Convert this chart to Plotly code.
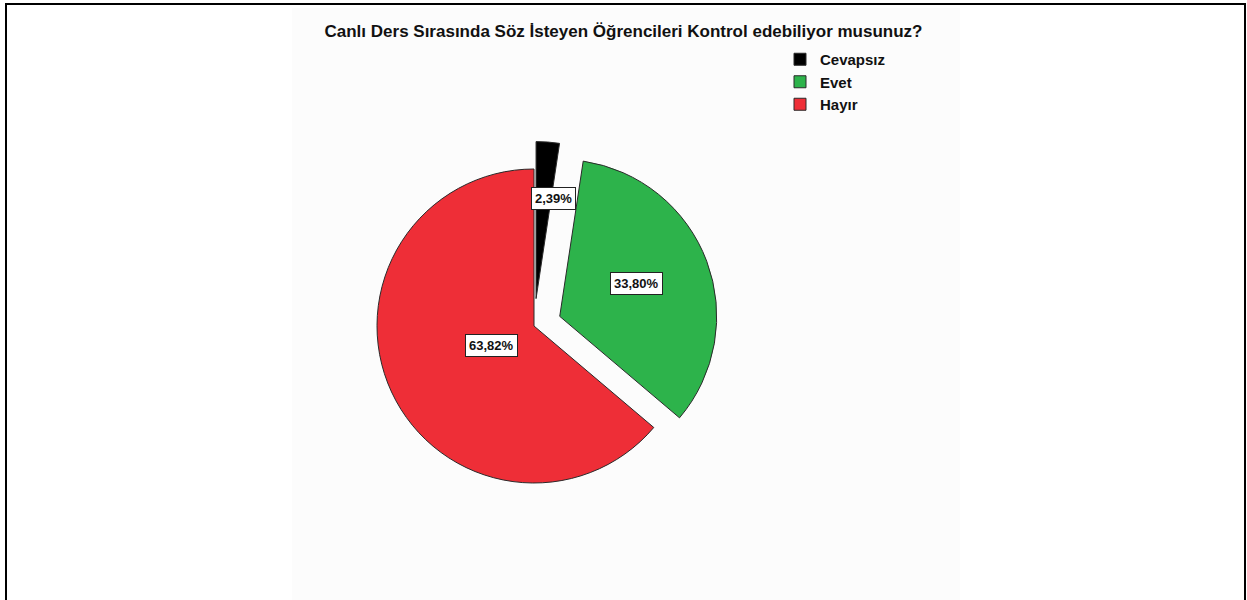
import math
import plotly.graph_objects as go

# ---- data ----
categories = ["Cevapsız", "Evet", "Hayır"]
percentages = [2.39, 33.80, 63.82]
slice_colors = ["#000000", "#2db34b", "#ee2e37"]
explode = [0.175, 0.175, 0.0]
title_text = "Canlı Ders Sırasında Söz İsteyen Öğrencileri Kontrol edebiliyor musunuz?"

# ---- layout geometry (pixels) ----
W, H = 1247, 600
cx_px, cy_px, r_px = 534, 326, 157
label_radius = [0.71, 0.52, 0.30]   # label distance from slice apex, as fraction of radius
label_xshift = [9, 0, 0]
label_yshift = [0, 4, 0]

box_half = r_px * (1 + max(explode))
dom_x = [(cx_px - box_half) / W, (cx_px + box_half) / W]
dom_y = [1 - (cy_px + box_half) / H, 1 - (cy_px - box_half) / H]

font_family = "Liberation Sans, Arial, sans-serif"

fig = go.Figure()
fig.add_trace(go.Pie(
    labels=categories,
    values=percentages,
    sort=False,
    direction="clockwise",
    rotation=0,
    pull=explode,
    marker=dict(colors=slice_colors, line=dict(color="#2a2a2a", width=1)),
    textinfo="none",
    hoverinfo="label+percent",
    domain=dict(x=dom_x, y=dom_y),
    showlegend=True,
))

# percentage labels in boxed annotations, placed along each slice's mid angle
total = sum(percentages)
start = 0.0
annotations = []
for i, v in enumerate(percentages):
    span = 360.0 * v / total
    mid = math.radians(start + span / 2)
    start += span
    ux, uy = math.sin(mid), -math.cos(mid)
    dist = (explode[i] + label_radius[i]) * r_px
    px = cx_px + ux * dist
    py = cy_px + uy * dist
    annotations.append(dict(
        x=px / W, y=1 - py / H, xref="paper", yref="paper",
        text=f"{v:.2f}".replace(".", ",") + "%",
        showarrow=False, xshift=label_xshift[i], yshift=label_yshift[i],
        font=dict(family=font_family, size=13, color="#111111", weight="bold"),
        bgcolor="#ffffff", bordercolor="#222222", borderwidth=1, borderpad=3,
    ))

fig.update_layout(
    width=W, height=H,
    margin=dict(l=0, r=0, t=0, b=0),
    paper_bgcolor="#ffffff",
    plot_bgcolor="#ffffff",
    title=dict(
        text=title_text,
        x=0.5, xanchor="center",
        y=1 - 31 / H, yanchor="middle", yref="container",
        font=dict(family=font_family, size=17, color="#111111", weight="bold"),
    ),
    legend=dict(
        x=780 / W, y=1 - 43 / H, xanchor="left", yanchor="top",
        font=dict(family=font_family, size=15, color="#111111", weight="bold"),
        bgcolor="rgba(0,0,0,0)",
        traceorder="normal",
        itemclick=False,
    ),
    annotations=annotations,
    shapes=[
        # faint chart panel
        dict(type="rect", xref="paper", yref="paper",
             x0=292 / W, x1=960 / W, y0=-0.05, y1=1 - 8 / H,
             fillcolor="#fcfcfc", line=dict(width=0), layer="below"),
        # outer frame
        dict(type="rect", xref="paper", yref="paper",
             x0=6 / W, x1=1245 / W, y0=-0.05, y1=1 - 4 / H,
             line=dict(color="#000000", width=2), layer="above"),
    ],
)

fig.write_html("out.html")
